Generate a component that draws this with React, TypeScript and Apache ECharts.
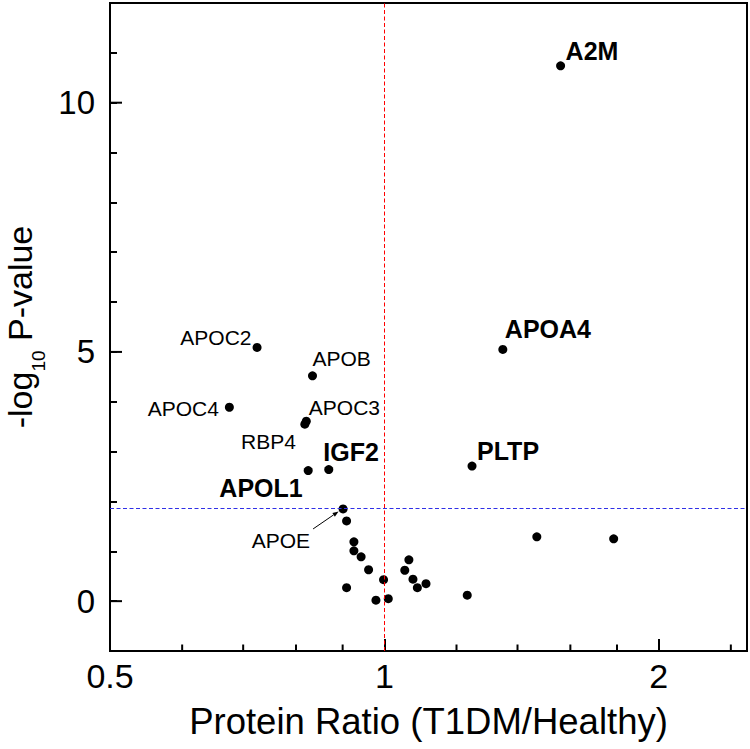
import React, { useEffect, useRef } from 'react';
import * as echarts from 'echarts';

const FONT = '"Liberation Sans", Arial, Helvetica, sans-serif';

// Named proteins: fold change (T1DM / Healthy) and -log10 P-value
const labelledNames = ['A2M', 'APOA4', 'PLTP', 'IGF2', 'APOL1', 'APOC2', 'APOB', 'APOC4', 'APOC3', 'RBP4', 'APOE'];
const labelledRatio = [1.561, 1.349, 1.248, 0.869, 0.825, 0.725, 0.834, 0.676, 0.821, 0.818, 0.901];
const labelledLogP = [10.74, 5.05, 2.71, 2.64, 2.62, 5.09, 4.52, 3.89, 3.61, 3.55, 1.85];
const labelledBold = [true, true, true, true, true, false, false, false, false, false, false];

// Remaining proteins without a name tag
const otherRatio = [0.909, 0.926, 0.926, 0.943, 0.961, 0.909, 0.998, 0.979, 1.010, 1.053, 1.064, 1.075, 1.087, 1.111, 1.233, 1.470, 1.785];
const otherLogP = [1.61, 1.19, 1.01, 0.89, 0.63, 0.27, 0.43, 0.02, 0.05, 0.62, 0.83, 0.44, 0.27, 0.35, 0.12, 1.29, 1.25];

// Cut-offs drawn as dashed guides
const ratioCutoff = 1;
const logPCutoff = 1.87;

// Axis ranges and ticks
const xMin = 0.5;
const xMax = 2.5;
const xMinorTicks = [0.6, 0.7, 0.8, 0.9, 1.2, 1.4, 1.6, 1.8, 2.4];
const yMin = -1;
const yMax = 12;
const yMajorTicks = [0, 5, 10];

// Where each name tag sits relative to its dot: [align, dx, dy]
const labelPlacement: Record<string, [string, number, number]> = {
  A2M: ['left', 5, -15],
  APOA4: ['left', 2, -20],
  PLTP: ['left', 5, -15.5],
  IGF2: ['left', -5.5, -18],
  APOL1: ['right', -5.5, 17],
  APOC2: ['right', -5.5, -10],
  APOB: ['left', 0, -17],
  APOC4: ['right', -10.5, 1.7],
  APOC3: ['left', 2.5, -14],
  RBP4: ['right', -9, 17],
  APOE: ['right', -33, 32],
};

export default function App() {
  const ref = useRef<HTMLDivElement>(null);

  useEffect(() => {
    if (!ref.current) return;
    const chart = echarts.init(ref.current, undefined, { renderer: 'svg' });

    const labelledData = labelledNames.map((name, i) => {
      const [align, dx, dy] = labelPlacement[name];
      return {
        name,
        value: [labelledRatio[i], labelledLogP[i]],
        label: {
          show: true,
          formatter: name,
          position: 'inside',
          align,
          verticalAlign: 'middle',
          offset: [dx, dy],
          color: '#000',
          opacity: 1,
          textBorderWidth: 0,
          fontFamily: FONT,
          fontSize: labelledBold[i] ? 25 : 21,
          fontWeight: labelledBold[i] ? 'bold' : 'normal',
        },
      };
    });

    const otherData = otherRatio.map((r, i) => [r, otherLogP[i]]);

    const tickLine = (x1: number, y1: number, x2: number, y2: number) => ({
      type: 'line',
      shape: { x1, y1, x2, y2 },
      style: { stroke: '#000', lineWidth: 2 },
    });

    const apoeIndex = labelledNames.indexOf('APOE');

    const dotStyle = { color: '#000', opacity: 1 };

    const option: any = {
      animation: false,
      backgroundColor: '#fff',
      grid: {
        left: 110,
        top: 3,
        width: 637,
        height: 648,
        show: true,
        borderColor: '#000',
        borderWidth: 2,
        backgroundColor: 'transparent',
        containLabel: false,
        outerBoundsMode: 'none',
      },
      xAxis: {
        type: 'log',
        logBase: 2,
        min: xMin,
        max: xMax,
        name: 'Protein Ratio (T1DM/Healthy)',
        nameLocation: 'middle',
        nameGap: 52,
        nameMoveOverlap: false,
        nameTextStyle: { fontFamily: FONT, fontSize: 36.5, color: '#000' },
        axisLine: { show: true, onZero: false, lineStyle: { color: '#000', width: 2 } },
        axisTick: { show: true, inside: true, length: 12, lineStyle: { color: '#000', width: 2 } },
        axisLabel: {
          show: true,
          margin: 8,
          color: '#000',
          fontFamily: FONT,
          fontSize: 34,
          showMaxLabel: false,
          formatter: (v: number) => {
            const r = Number(v.toPrecision(6));
            return r === 0.5 || r === 1 || r === 2 ? String(r) : '';
          },
        },
        splitLine: { show: false },
        minorTick: { show: false },
      },
      yAxis: {
        type: 'value',
        min: yMin,
        max: yMax,
        interval: 1,
        name: '{m|-log}{s|10}{m| P-value}',
        nameLocation: 'middle',
        nameGap: 62,
        nameMoveOverlap: false,
        nameTextStyle: {
          color: '#000',
          fontFamily: FONT,
          rich: {
            m: { fontFamily: FONT, fontSize: 34, color: '#000', lineHeight: 56, verticalAlign: 'middle' },
            s: { fontFamily: FONT, fontSize: 19, color: '#000', lineHeight: 19, verticalAlign: 'bottom' },
          },
        },
        axisLine: { show: true, onZero: false, lineStyle: { color: '#000', width: 2 } },
        axisTick: { show: true, inside: true, length: 7, lineStyle: { color: '#000', width: 2 } },
        axisLabel: {
          show: true,
          margin: 15,
          color: '#000',
          fontFamily: FONT,
          fontSize: 33,
          formatter: (v: number) => (yMajorTicks.includes(v) ? String(v) : ''),
        },
        splitLine: { show: false },
      },
      series: [
        {
          // dashed cut-off guides
          type: 'scatter',
          data: [],
          silent: true,
          z: 1,
          markLine: {
            silent: true,
            symbol: ['none', 'none'],
            label: { show: false },
            animation: false,
            data: [
              { xAxis: ratioCutoff, lineStyle: { color: '#ff0000', width: 1, type: [4, 2.5], opacity: 1 } },
              { yAxis: logPCutoff, lineStyle: { color: '#3030e6', width: 1, type: [4, 2.5], opacity: 1 } },
            ],
          },
        },
        {
          // major y ticks (longer)
          type: 'custom',
          silent: true,
          z: 4,
          data: yMajorTicks.map((v) => [xMin, v]),
          renderItem: (_p: any, api: any) => {
            const pt = api.coord([api.value(0), api.value(1)]);
            return tickLine(pt[0], pt[1], pt[0] + 12, pt[1]);
          },
        },
        {
          // minor x ticks (shorter)
          type: 'custom',
          silent: true,
          z: 4,
          data: xMinorTicks.map((v) => [v, yMin]),
          renderItem: (_p: any, api: any) => {
            const pt = api.coord([api.value(0), api.value(1)]);
            return tickLine(pt[0], pt[1], pt[0], pt[1] - 6.5);
          },
        },
        {
          // pointer from the APOE tag to its dot
          type: 'custom',
          silent: true,
          z: 4,
          data: [[labelledRatio[apoeIndex], labelledLogP[apoeIndex]]],
          renderItem: (_p: any, api: any) => {
            const pt = api.coord([api.value(0), api.value(1)]);
            const x1 = pt[0] - 30;
            const y1 = pt[1] + 20;
            const x2 = pt[0] - 4.5;
            const y2 = pt[1] + 2.5;
            const dx = x2 - x1;
            const dy = y2 - y1;
            const len = Math.sqrt(dx * dx + dy * dy);
            const ux = dx / len;
            const uy = dy / len;
            const hl = 6;
            const hw = 2.2;
            const bx = x2 - ux * hl;
            const by = y2 - uy * hl;
            return {
              type: 'group',
              children: [
                { type: 'line', shape: { x1, y1, x2: bx, y2: by }, style: { stroke: '#000', lineWidth: 1 } },
                {
                  type: 'polygon',
                  shape: {
                    points: [
                      [x2, y2],
                      [bx - uy * hw, by + ux * hw],
                      [bx + uy * hw, by - ux * hw],
                    ],
                  },
                  style: { fill: '#000' },
                },
              ],
            };
          },
        },
        {
          type: 'scatter',
          data: otherData,
          symbol: 'circle',
          symbolSize: 9,
          itemStyle: dotStyle,
          silent: true,
          z: 3,
        },
        {
          type: 'scatter',
          data: labelledData,
          symbol: 'circle',
          symbolSize: 9,
          itemStyle: dotStyle,
          silent: true,
          z: 3,
        },
      ],
    };

    chart.setOption(option);
    return () => chart.dispose();
  }, []);

  return (
    <div
      ref={ref}
      style={{ position: 'absolute', left: 0, top: 0, width: 750, height: 749, background: '#fff' }}
    />
  );
}
